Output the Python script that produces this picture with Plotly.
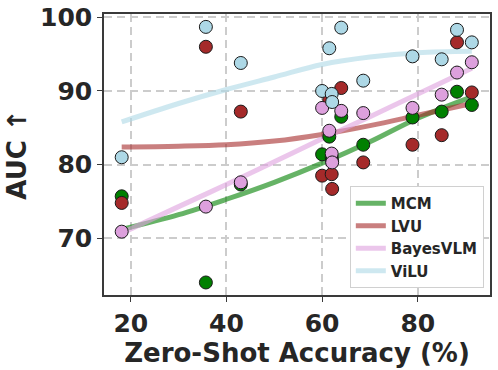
import plotly.graph_objects as go

# zero-shot accuracy of each dataset (shared x for all methods)
zs_acc = [18.1, 35.7, 43.0, 60.0, 61.5, 62.0, 62.1, 64.0, 68.6, 78.9, 85.0, 88.2, 91.3]

auc_mcm = [75.7, 64.0, 77.3, 81.4, 83.8, 81.0, 80.5, 86.5, 82.7, 86.4, 87.2, 89.9, 88.1]
auc_lvu = [74.8, 96.0, 87.2, 78.5, 88.8, 78.7, 76.7, 90.4, 80.3, 82.7, 84.0, 96.6, 89.8]
auc_bayes = [70.9, 74.3, 77.6, 87.7, 84.6, 81.5, 80.3, 87.3, 87.0, 87.7, 89.5, 92.5, 93.9]
auc_vilu = [81.0, 98.7, 93.8, 90.0, 95.8, 89.6, 88.5, 98.6, 91.4, 94.7, 94.3, 98.3, 96.6]

# trend lines
fit_x = [18.1, 30, 40, 50, 60, 70, 80, 91.3]
fit_mcm = [71.2, 73.2, 75.3, 77.6, 80.2, 83.1, 86.3, 89.2]
fit_lvu = [82.4, 82.5, 82.7, 83.2, 84.1, 85.3, 86.7, 88.3]
fit_bayes = [70.7, 74.3, 77.3, 80.4, 83.5, 86.5, 89.6, 93.1]
fit_vilu = [85.8, 88.3, 90.2, 91.9, 93.6, 94.6, 95.2, 95.4]

methods = [
    ("MCM", auc_mcm, fit_mcm, "#008000", "rgba(0,128,0,0.6)"),
    ("LVU", auc_lvu, fit_lvu, "#a52a2a", "rgba(165,42,42,0.6)"),
    ("BayesVLM", auc_bayes, fit_bayes, "#dda0dd", "rgba(221,160,221,0.6)"),
    ("ViLU", auc_vilu, fit_vilu, "#add8e6", "rgba(173,216,230,0.6)"),
]

fig = go.Figure()

# lines first so the dots sit on top
for name, auc, fit, col, lcol in methods:
    fig.add_trace(go.Scatter(x=fit_x, y=fit, mode="lines", name=name,
                             line=dict(color=lcol, width=5, shape="spline")))

for name, auc, fit, col, lcol in methods:
    fig.add_trace(go.Scatter(x=zs_acc, y=auc, mode="markers", showlegend=False,
                             marker=dict(size=13, color=col,
                                         line=dict(color="#1a1a1a", width=1))))

txt = "#262626"
axis_common = dict(
    showline=True, mirror=True, linecolor="#3a3a3a", linewidth=1.6,
    ticks="outside", ticklen=5, tickwidth=1.2, tickcolor="#3a3a3a",
    showgrid=True, gridcolor="#cccccc", gridwidth=1.5, griddash="8px,5px",
    zeroline=False, automargin=False,
    tickfont=dict(family="DejaVu Sans", size=25, color=txt, weight="bold"),
)

fig.update_xaxes(range=[14.4, 95.1], tickvals=[20, 40, 60, 80],
                 title=dict(text="Zero-Shot Accuracy (%)", standoff=6,
                            font=dict(family="DejaVu Sans", size=26, color=txt, weight="bold")),
                 **axis_common)
fig.update_yaxes(range=[62.3, 100.45], tickvals=[70, 80, 90, 100],
                 title=dict(text="AUC ↑", standoff=6,
                            font=dict(family="DejaVu Sans", size=26, color=txt, weight="bold")),
                 **axis_common)

fig.update_layout(
    width=498, height=370,
    margin=dict(l=104, r=8, t=14, b=75),
    paper_bgcolor="white", plot_bgcolor="white",
    legend=dict(x=0.984, y=0.025, xanchor="right", yanchor="bottom",
                bgcolor="white", bordercolor="#d0d0d0", borderwidth=1,
                font=dict(family="DejaVu Sans", size=15, color=txt, weight="bold")),
)

# page has a default 8px body margin; drop it so the figure fills the window
fig.write_html("out.html", config={"displayModeBar": False},
               post_script="document.body.style.margin='0';")
